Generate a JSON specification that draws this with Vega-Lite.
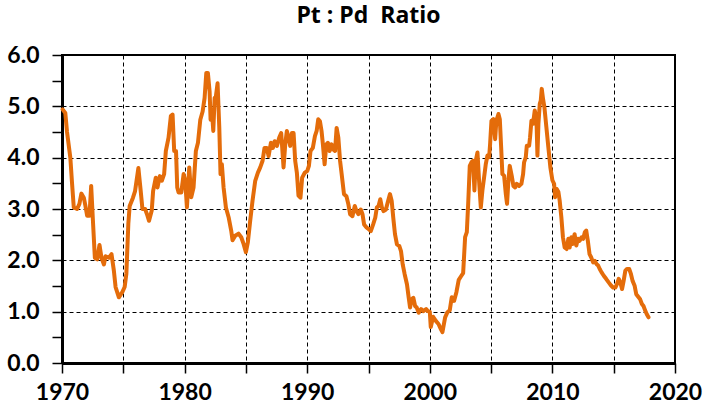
{
  "$schema": "https://vega.github.io/schema/vega-lite/v6.json",
  "width": 613,
  "height": 308,
  "autosize": "none",
  "padding": {"left": 62, "top": 55, "right": 30, "bottom": 42},
  "background": "white",
  "title": {"text": "Pt : Pd\u00a0 Ratio", "font": "Open Sans", "fontSize": 23, "fontWeight": "bold", "color": "black", "anchor": "middle", "baseline": "alphabetic", "offset": -2},
  "config": {
    "view": {"stroke": "black", "strokeWidth": 2},
    "axis": {"labelFont": "Lato", "labelFontSize": 23, "labelFontWeight": "bold", "labelColor": "black", "domainColor": "black", "domainWidth": 3, "tickColor": "black", "tickWidth": 1.5, "tickSize": 10, "gridColor": "black", "gridDash": [4, 3], "gridWidth": 1, "title": null}
  },
  "data": {"values": [
    {"t": 1970.05, "v": 4.94}, {"t": 1970.27, "v": 4.87}, {"t": 1970.41, "v": 4.5}, {"t": 1970.68, "v": 4.0}, {"t": 1970.82, "v": 3.5}, {"t": 1970.96, "v": 3.03}, {"t": 1971.23, "v": 3.0}, {"t": 1971.42, "v": 3.1}, {"t": 1971.58, "v": 3.3}, {"t": 1971.78, "v": 3.22}, {"t": 1971.91, "v": 3.06}, {"t": 1972.05, "v": 2.87}, {"t": 1972.24, "v": 2.87}, {"t": 1972.38, "v": 3.45}, {"t": 1972.51, "v": 2.83}, {"t": 1972.68, "v": 2.05}, {"t": 1972.87, "v": 2.02}, {"t": 1973.06, "v": 2.3}, {"t": 1973.22, "v": 2.05}, {"t": 1973.42, "v": 1.92}, {"t": 1973.55, "v": 2.08}, {"t": 1973.83, "v": 2.05}, {"t": 1974.04, "v": 2.12}, {"t": 1974.23, "v": 1.8}, {"t": 1974.37, "v": 1.48}, {"t": 1974.64, "v": 1.28}, {"t": 1974.92, "v": 1.38}, {"t": 1975.11, "v": 1.48}, {"t": 1975.25, "v": 1.74}, {"t": 1975.41, "v": 2.71}, {"t": 1975.52, "v": 3.06}, {"t": 1975.79, "v": 3.22}, {"t": 1975.96, "v": 3.35}, {"t": 1976.23, "v": 3.8}, {"t": 1976.42, "v": 3.35}, {"t": 1976.56, "v": 3.0}, {"t": 1976.78, "v": 3.0}, {"t": 1976.97, "v": 2.87}, {"t": 1977.1, "v": 2.77}, {"t": 1977.32, "v": 2.97}, {"t": 1977.43, "v": 3.35}, {"t": 1977.65, "v": 3.61}, {"t": 1977.79, "v": 3.42}, {"t": 1977.98, "v": 3.64}, {"t": 1978.14, "v": 3.55}, {"t": 1978.33, "v": 3.68}, {"t": 1978.47, "v": 4.13}, {"t": 1978.69, "v": 4.39}, {"t": 1978.88, "v": 4.81}, {"t": 1979.02, "v": 4.84}, {"t": 1979.15, "v": 4.13}, {"t": 1979.3, "v": 4.13}, {"t": 1979.4, "v": 3.42}, {"t": 1979.51, "v": 3.32}, {"t": 1979.73, "v": 3.32}, {"t": 1979.92, "v": 3.68}, {"t": 1980.05, "v": 3.55}, {"t": 1980.19, "v": 3.03}, {"t": 1980.38, "v": 3.81}, {"t": 1980.54, "v": 3.23}, {"t": 1980.73, "v": 3.42}, {"t": 1980.92, "v": 4.13}, {"t": 1981.09, "v": 4.29}, {"t": 1981.28, "v": 4.74}, {"t": 1981.47, "v": 4.9}, {"t": 1981.63, "v": 5.16}, {"t": 1981.77, "v": 5.65}, {"t": 1981.9, "v": 5.65}, {"t": 1982.04, "v": 5.29}, {"t": 1982.12, "v": 4.74}, {"t": 1982.23, "v": 4.9}, {"t": 1982.34, "v": 4.52}, {"t": 1982.45, "v": 5.16}, {"t": 1982.55, "v": 5.19}, {"t": 1982.69, "v": 5.45}, {"t": 1982.83, "v": 4.58}, {"t": 1982.93, "v": 3.68}, {"t": 1983.04, "v": 3.87}, {"t": 1983.18, "v": 3.42}, {"t": 1983.37, "v": 3.03}, {"t": 1983.59, "v": 2.84}, {"t": 1983.8, "v": 2.58}, {"t": 1983.91, "v": 2.39}, {"t": 1984.13, "v": 2.48}, {"t": 1984.4, "v": 2.52}, {"t": 1984.62, "v": 2.45}, {"t": 1984.81, "v": 2.32}, {"t": 1985.0, "v": 2.16}, {"t": 1985.16, "v": 2.35}, {"t": 1985.35, "v": 2.77}, {"t": 1985.54, "v": 3.16}, {"t": 1985.76, "v": 3.55}, {"t": 1985.98, "v": 3.71}, {"t": 1986.17, "v": 3.81}, {"t": 1986.36, "v": 3.94}, {"t": 1986.52, "v": 4.19}, {"t": 1986.71, "v": 4.19}, {"t": 1986.85, "v": 4.03}, {"t": 1987.04, "v": 4.29}, {"t": 1987.2, "v": 4.19}, {"t": 1987.34, "v": 4.32}, {"t": 1987.53, "v": 4.23}, {"t": 1987.72, "v": 4.39}, {"t": 1987.88, "v": 4.48}, {"t": 1988.07, "v": 3.81}, {"t": 1988.21, "v": 4.26}, {"t": 1988.34, "v": 4.52}, {"t": 1988.48, "v": 4.39}, {"t": 1988.61, "v": 4.23}, {"t": 1988.75, "v": 4.48}, {"t": 1988.89, "v": 4.48}, {"t": 1989.02, "v": 3.94}, {"t": 1989.16, "v": 3.7}, {"t": 1989.29, "v": 3.26}, {"t": 1989.45, "v": 3.22}, {"t": 1989.59, "v": 3.61}, {"t": 1989.81, "v": 3.71}, {"t": 1990.0, "v": 3.74}, {"t": 1990.14, "v": 3.84}, {"t": 1990.27, "v": 4.13}, {"t": 1990.46, "v": 4.19}, {"t": 1990.63, "v": 4.42}, {"t": 1990.77, "v": 4.52}, {"t": 1990.9, "v": 4.75}, {"t": 1991.04, "v": 4.71}, {"t": 1991.17, "v": 4.52}, {"t": 1991.28, "v": 4.26}, {"t": 1991.42, "v": 3.87}, {"t": 1991.56, "v": 4.26}, {"t": 1991.69, "v": 4.29}, {"t": 1991.83, "v": 4.13}, {"t": 1991.99, "v": 4.26}, {"t": 1992.13, "v": 4.16}, {"t": 1992.27, "v": 4.13}, {"t": 1992.4, "v": 4.58}, {"t": 1992.54, "v": 4.39}, {"t": 1992.68, "v": 3.94}, {"t": 1992.81, "v": 3.68}, {"t": 1993.0, "v": 3.29}, {"t": 1993.2, "v": 3.25}, {"t": 1993.36, "v": 3.09}, {"t": 1993.5, "v": 2.9}, {"t": 1993.69, "v": 2.86}, {"t": 1993.88, "v": 3.06}, {"t": 1994.02, "v": 2.96}, {"t": 1994.18, "v": 2.9}, {"t": 1994.37, "v": 2.99}, {"t": 1994.51, "v": 2.9}, {"t": 1994.64, "v": 2.7}, {"t": 1994.84, "v": 2.64}, {"t": 1995.05, "v": 2.6}, {"t": 1995.19, "v": 2.57}, {"t": 1995.38, "v": 2.7}, {"t": 1995.55, "v": 2.83}, {"t": 1995.68, "v": 3.03}, {"t": 1995.82, "v": 3.06}, {"t": 1995.96, "v": 3.19}, {"t": 1996.09, "v": 3.03}, {"t": 1996.23, "v": 2.96}, {"t": 1996.42, "v": 2.99}, {"t": 1996.56, "v": 3.12}, {"t": 1996.75, "v": 3.29}, {"t": 1996.89, "v": 3.16}, {"t": 1997.02, "v": 2.83}, {"t": 1997.16, "v": 2.51}, {"t": 1997.32, "v": 2.31}, {"t": 1997.51, "v": 2.28}, {"t": 1997.65, "v": 2.18}, {"t": 1997.79, "v": 1.92}, {"t": 1997.95, "v": 1.73}, {"t": 1998.14, "v": 1.53}, {"t": 1998.28, "v": 1.27}, {"t": 1998.39, "v": 1.08}, {"t": 1998.52, "v": 1.24}, {"t": 1998.66, "v": 1.27}, {"t": 1998.8, "v": 1.11}, {"t": 1998.93, "v": 1.08}, {"t": 1999.1, "v": 0.98}, {"t": 1999.29, "v": 1.05}, {"t": 1999.48, "v": 1.01}, {"t": 1999.7, "v": 1.05}, {"t": 1999.84, "v": 1.01}, {"t": 2000.0, "v": 1.0}, {"t": 2000.08, "v": 0.7}, {"t": 2000.27, "v": 0.9}, {"t": 2000.49, "v": 0.82}, {"t": 2000.71, "v": 0.76}, {"t": 2000.9, "v": 0.66}, {"t": 2001.03, "v": 0.6}, {"t": 2001.25, "v": 0.89}, {"t": 2001.44, "v": 0.99}, {"t": 2001.63, "v": 1.03}, {"t": 2001.79, "v": 1.28}, {"t": 2001.98, "v": 1.21}, {"t": 2002.17, "v": 1.38}, {"t": 2002.36, "v": 1.62}, {"t": 2002.55, "v": 1.69}, {"t": 2002.72, "v": 1.75}, {"t": 2002.88, "v": 2.45}, {"t": 2003.02, "v": 2.55}, {"t": 2003.13, "v": 3.1}, {"t": 2003.26, "v": 3.84}, {"t": 2003.4, "v": 3.91}, {"t": 2003.53, "v": 3.94}, {"t": 2003.64, "v": 3.36}, {"t": 2003.75, "v": 3.94}, {"t": 2003.89, "v": 4.1}, {"t": 2004.02, "v": 3.55}, {"t": 2004.16, "v": 3.03}, {"t": 2004.29, "v": 3.36}, {"t": 2004.43, "v": 3.62}, {"t": 2004.57, "v": 3.88}, {"t": 2004.7, "v": 4.04}, {"t": 2004.84, "v": 4.01}, {"t": 2004.92, "v": 4.27}, {"t": 2005.03, "v": 4.72}, {"t": 2005.19, "v": 4.75}, {"t": 2005.33, "v": 4.36}, {"t": 2005.43, "v": 4.72}, {"t": 2005.6, "v": 4.85}, {"t": 2005.71, "v": 4.75}, {"t": 2005.82, "v": 4.2}, {"t": 2005.92, "v": 3.68}, {"t": 2006.06, "v": 3.65}, {"t": 2006.2, "v": 3.29}, {"t": 2006.3, "v": 3.1}, {"t": 2006.41, "v": 3.55}, {"t": 2006.52, "v": 3.84}, {"t": 2006.68, "v": 3.65}, {"t": 2006.82, "v": 3.45}, {"t": 2006.96, "v": 3.42}, {"t": 2007.09, "v": 3.49}, {"t": 2007.28, "v": 3.45}, {"t": 2007.47, "v": 3.49}, {"t": 2007.61, "v": 3.68}, {"t": 2007.69, "v": 3.91}, {"t": 2007.83, "v": 4.01}, {"t": 2007.91, "v": 4.23}, {"t": 2008.1, "v": 4.23}, {"t": 2008.18, "v": 4.4}, {"t": 2008.29, "v": 4.72}, {"t": 2008.42, "v": 4.66}, {"t": 2008.56, "v": 4.92}, {"t": 2008.7, "v": 4.75}, {"t": 2008.78, "v": 4.04}, {"t": 2008.86, "v": 4.66}, {"t": 2008.97, "v": 5.05}, {"t": 2009.05, "v": 5.11}, {"t": 2009.13, "v": 5.34}, {"t": 2009.24, "v": 5.14}, {"t": 2009.35, "v": 4.98}, {"t": 2009.51, "v": 4.59}, {"t": 2009.67, "v": 4.2}, {"t": 2009.84, "v": 3.8}, {"t": 2010.0, "v": 3.56}, {"t": 2010.14, "v": 3.49}, {"t": 2010.22, "v": 3.23}, {"t": 2010.35, "v": 3.39}, {"t": 2010.49, "v": 3.33}, {"t": 2010.59, "v": 3.17}, {"t": 2010.73, "v": 2.84}, {"t": 2010.86, "v": 2.45}, {"t": 2011.0, "v": 2.25}, {"t": 2011.16, "v": 2.22}, {"t": 2011.3, "v": 2.42}, {"t": 2011.41, "v": 2.25}, {"t": 2011.54, "v": 2.45}, {"t": 2011.68, "v": 2.32}, {"t": 2011.81, "v": 2.51}, {"t": 2011.95, "v": 2.29}, {"t": 2012.08, "v": 2.42}, {"t": 2012.22, "v": 2.38}, {"t": 2012.38, "v": 2.45}, {"t": 2012.51, "v": 2.42}, {"t": 2012.65, "v": 2.55}, {"t": 2012.76, "v": 2.58}, {"t": 2012.89, "v": 2.38}, {"t": 2013.03, "v": 2.12}, {"t": 2013.16, "v": 2.06}, {"t": 2013.32, "v": 1.96}, {"t": 2013.46, "v": 1.99}, {"t": 2013.59, "v": 1.93}, {"t": 2013.73, "v": 1.9}, {"t": 2013.86, "v": 1.83}, {"t": 2014.0, "v": 1.77}, {"t": 2014.19, "v": 1.7}, {"t": 2014.38, "v": 1.64}, {"t": 2014.59, "v": 1.57}, {"t": 2014.78, "v": 1.51}, {"t": 2014.95, "v": 1.47}, {"t": 2015.14, "v": 1.47}, {"t": 2015.27, "v": 1.54}, {"t": 2015.41, "v": 1.64}, {"t": 2015.54, "v": 1.57}, {"t": 2015.68, "v": 1.44}, {"t": 2015.81, "v": 1.6}, {"t": 2015.95, "v": 1.8}, {"t": 2016.08, "v": 1.83}, {"t": 2016.27, "v": 1.83}, {"t": 2016.41, "v": 1.73}, {"t": 2016.54, "v": 1.6}, {"t": 2016.7, "v": 1.51}, {"t": 2016.84, "v": 1.34}, {"t": 2017.03, "v": 1.28}, {"t": 2017.16, "v": 1.24}, {"t": 2017.3, "v": 1.15}, {"t": 2017.43, "v": 1.11}, {"t": 2017.57, "v": 1.02}, {"t": 2017.7, "v": 0.95}, {"t": 2017.84, "v": 0.89}
  ]},
  "mark": {"type": "line", "color": "#E46C0A", "strokeWidth": 4, "strokeJoin": "round", "strokeCap": "round"},
  "encoding": {
    "x": {
      "field": "t", "type": "quantitative",
      "scale": {"domain": [1970, 2020], "nice": false, "zero": false},
      "axis": {
        "values": [1970, 1975, 1980, 1985, 1990, 1995, 2000, 2005, 2010, 2015, 2020],
        "format": "d",
        "labelExpr": "datum.value % 10 === 0 ? datum.label : ''",
        "labelPadding": 8,
        "labelFlush": false,
        "labelOverlap": false,
        "grid": true
      }
    },
    "y": {
      "field": "v", "type": "quantitative",
      "scale": {"domain": [0, 6], "nice": false},
      "axis": {
        "values": [0, 0.5, 1, 1.5, 2, 2.5, 3, 3.5, 4, 4.5, 5, 5.5, 6],
        "labelExpr": "datum.value % 1 === 0 ? format(datum.value, '.1f') : ''",
        "labelPadding": 13,
        "labelFlush": false,
        "labelOverlap": false,
        "grid": true,
        "gridOpacity": {"condition": {"test": "datum.value % 1 !== 0", "value": 0}, "value": 1}
      }
    }
  }
}
